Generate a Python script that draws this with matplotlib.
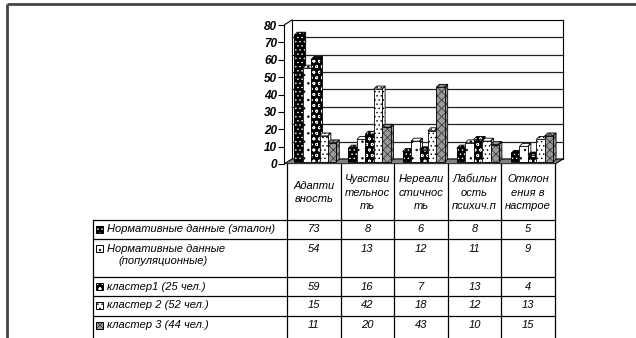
import matplotlib.pyplot as plt
from matplotlib.patches import Polygon, Rectangle

plt.rcParams['font.family'] = ['Liberation Sans', 'DejaVu Sans']
plt.rcParams['hatch.linewidth'] = 0.5

categories = ["Адапти\nвность", "Чувстви\nтельнос\nть", "Нереали\nстичнос\nть",
              "Лабильн\nость\nпсихич.п", "Отклон\nения в\nнастрое"]
series_names = ["Нормативные данные (эталон)", "Нормативные данные\n(популяционные)",
                "кластер1 (25 чел.)", "кластер 2 (52 чел.)", "кластер 3 (44 чел.)"]
etalon = [73, 8, 6, 8, 5]
population = [54, 13, 12, 11, 9]
cluster1 = [59, 16, 7, 13, 4]
cluster2 = [15, 42, 18, 12, 13]
cluster3 = [11, 20, 43, 10, 15]
y_ticks = [0, 10, 20, 30, 40, 50, 60, 70, 80]

series = [etalon, population, cluster1, cluster2, cluster3]
# face colour, hatch colour, hatch
styles = [
    ('black', 'white', '....'),
    ('white', 'black', '..'),
    ('black', 'white', 'ooo'),
    ('white', 'black', '....'),
    ('#9a9a9a', '#303030', 'xxxx'),
]

W, H = 636, 338
fig = plt.figure(figsize=(W / 100, H / 100), dpi=100)

# pixel-space layer for the frame and the data table
tab = fig.add_axes([0, 0, 1, 1])
tab.set_xlim(0, W)
tab.set_ylim(H, 0)
tab.axis('off')

# chart area
PX, PY = 54.2, 1.7375         # pixels per unit
X0, Y0 = 284, 164             # pixel position of the origin
XMAX, YMAX = 5.2, 84
ax = fig.add_axes([X0 / W, (H - Y0) / H, XMAX * PX / W, YMAX * PY / H])
ax.set_xlim(0, XMAX)
ax.set_ylim(0, YMAX)
ax.patch.set_visible(False)
for s in ['top', 'right', 'bottom']:
    ax.spines[s].set_visible(False)
ax.spines['left'].set_bounds(0, 80)
ax.spines['left'].set_linewidth(0.8)
ax.set_xticks([])
ax.set_yticks(y_ticks)
ax.tick_params(axis='y', direction='out', length=4, width=0.8, pad=1, labelsize=8.5)
for lbl in ax.get_yticklabels():
    lbl.set_fontweight('bold')
    lbl.set_fontstyle('italic')

n = len(categories)
DX, DY = 0.148, 2.9          # depth of the box
SX, SY = 0.055, 1.7          # depth of a single bar
BY = DY * 0.4                # bars stand mid-depth

# floor, back wall, side wall
ax.add_patch(Polygon([(0, 0), (n, 0), (n + DX, DY), (DX, DY)], closed=True,
                     facecolor='#808080', edgecolor='black', lw=0.8, zorder=1))
ax.add_patch(Rectangle((DX, DY), n, 80, facecolor='white', edgecolor='black', lw=0.8, zorder=0.5))
for t in y_ticks[1:-1]:
    ax.plot([DX, n + DX], [t + DY, t + DY], color='#222222', lw=0.9, zorder=0.8)
ax.plot([0, DX], [80, 80 + DY], color='black', lw=0.8, zorder=0.8)

pitch = 0.155
for j, vals in enumerate(series):
    fc, hc, hatch = styles[j]
    lefts = [i + 0.19 + j * pitch for i in range(n)]
    z = 2 + j * 0.1
    for xl, v in zip(lefts, vals):
        xr = xl + pitch
        side = [(xr, BY), (xr + SX, BY + SY), (xr + SX, BY + v + SY), (xr, BY + v)]
        top = [(xl, BY + v), (xl + SX, BY + v + SY), (xr + SX, BY + v + SY), (xr, BY + v)]
        for pts in (side, top):
            ax.add_patch(Polygon(pts, closed=True, facecolor=fc, edgecolor=hc,
                                 hatch=hatch, lw=0, zorder=z))
            ax.add_patch(Polygon(pts, closed=True, fill=False, edgecolor='black',
                                 lw=0.6, zorder=z + 0.01))
    ax.bar(lefts, vals, width=pitch, bottom=BY, align='edge', color=fc,
           edgecolor=hc, hatch=hatch, lw=0, zorder=z + 0.02)
    ax.bar(lefts, vals, width=pitch, bottom=BY, align='edge', fill=False,
           edgecolor='black', lw=0.6, zorder=z + 0.03)

# frame around the whole object
tab.plot([7, W], [3.5, 3.5], color='#444444', lw=2, solid_capstyle='butt')
tab.plot([7, 7], [3.5, H], color='#444444', lw=2, solid_capstyle='butt')

# data table
tx = 93
col_edges = [287 + 53.6 * i for i in range(n + 1)]
head_top, head_bot = 163, 220
row_tops = [220, 239, 277, 296, 316]
row_bots = [239, 277, 296, 316]

tab.plot([col_edges[0], col_edges[-1]], [head_top, head_top], color='black', lw=0.9)
tab.plot([tx, col_edges[-1]], [head_bot, head_bot], color='black', lw=0.9)
for yb in row_bots:
    tab.plot([tx, col_edges[-1]], [yb, yb], color='black', lw=0.9)
tab.plot([tx, tx], [head_bot, H], color='black', lw=0.9)
for xe in col_edges:
    tab.plot([xe, xe], [head_top, H], color='black', lw=0.9)

fs = 8
for i, lab in enumerate(categories):
    xc = (col_edges[i] + col_edges[i + 1]) / 2
    tab.text(xc, (head_top + head_bot) / 2 + 1, lab, ha='center', va='center',
             fontsize=fs, style='italic', linespacing=1.45)

for j, (name, vals) in enumerate(zip(series_names, series)):
    yc = row_tops[j] + 9.5
    fc, hc, hatch = styles[j]
    tab.add_patch(Rectangle((96, yc - 3.5), 7, 7, facecolor=fc, edgecolor=hc,
                            hatch=hatch, lw=0))
    tab.add_patch(Rectangle((96, yc - 3.5), 7, 7, fill=False, edgecolor='black', lw=0.7))
    lines = name.split('\n')
    tab.text(107, yc, lines[0], ha='left', va='center', fontsize=fs, style='italic')
    if len(lines) > 1:
        tab.text(118, yc + 13, lines[1], ha='left', va='center', fontsize=fs, style='italic')
    for i, v in enumerate(vals):
        xc = (col_edges[i] + col_edges[i + 1]) / 2
        tab.text(xc, yc, str(v), ha='center', va='center', fontsize=fs, style='italic')

fig.savefig('out.png', dpi=100)
